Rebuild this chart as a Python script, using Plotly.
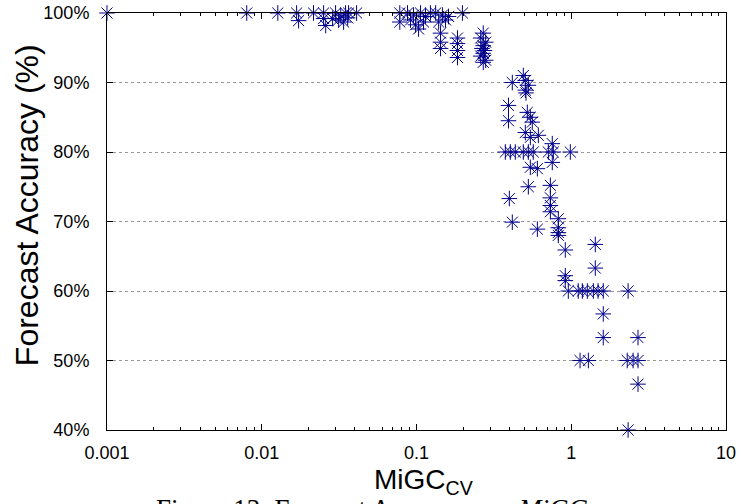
import plotly.graph_objects as go

# MiGC_CV values (log x) and forecast accuracy (%)
mig_cv = [
    0.001, 0.0080, 0.0127, 0.0168, 0.0173, 0.0216, 0.0251, 0.0251, 0.0259,
    0.0287, 0.0300, 0.0314, 0.0324, 0.0338, 0.0348, 0.0359, 0.0364, 0.041,
    0.078, 0.078, 0.0875, 0.0915, 0.0957, 0.0986, 0.1031, 0.1062, 0.1110, 0.1143,
    0.123, 0.133, 0.139, 0.147, 0.154, 0.161,
    0.143, 0.143, 0.143,
    0.184, 0.184, 0.184, 0.184, 0.198,
    0.27, 0.26, 0.28, 0.27, 0.265, 0.275, 0.27, 0.26, 0.28, 0.27,
    0.416, 0.49, 0.505, 0.528, 0.505, 0.51,
    0.393, 0.393, 0.52, 0.544, 0.56, 0.505, 0.544, 0.613,
    0.375, 0.404, 0.435, 0.49, 0.528, 0.568, 0.711, 0.766, 0.986,
    0.754, 0.754, 0.544, 0.604, 0.528, 0.733,
    0.398, 0.733, 0.733, 0.733, 0.416, 0.604,
    0.825, 0.825, 0.825, 0.825,
    0.915, 0.915, 0.915, 1.43, 1.43,
    0.957, 1.11, 1.18, 1.27, 1.39, 1.49, 1.61, 2.33,
    1.61, 1.61, 2.70,
    1.14, 1.29, 2.30, 2.51, 2.70,
    2.70, 2.33,
]
accuracy = [
    100, 100, 100, 100, 98.9, 100, 100, 99.2, 98.2,
    99.2, 100, 99.0, 99.6, 98.7, 100, 99.3, 100, 100,
    100, 98.7, 100, 99.0, 99.7, 98.3, 97.7, 100, 98.7, 99.5,
    100, 100, 98.7, 99.7, 99.0, 99.5,
    97.1, 95.8, 94.9,
    96.4, 95.6, 94.6, 93.6, 100,
    97.1, 96.4, 95.8, 95.3, 94.9, 94.6, 94.2, 93.8, 93.2, 92.9,
    90.0, 91.0, 90.3, 89.6, 88.9, 88.5,
    86.7, 84.5, 85.7, 85.0, 84.3, 82.8, 82.1, 82.4,
    80, 80, 80, 80, 80, 80, 80, 80, 80,
    81.2, 78.5, 77.8, 77.6, 75.0, 75.2,
    73.3, 73.4, 72.3, 71.4, 69.9, 68.9,
    70.4, 69.1, 68.4, 68.0,
    65.9, 62.2, 61.5, 66.7, 63.3,
    60, 60, 60, 60, 60, 60, 60, 60,
    56.7, 53.3, 53.3,
    50, 50, 50, 50, 50,
    46.6, 40,
]

x_tickvals = [0.001, 0.01, 0.1, 1, 10]
x_ticktext = ["0.001", "0.01", "0.1", "1", "10"]
y_tickvals = [40, 50, 60, 70, 80, 90, 100]
y_ticktext = ["40%", "50%", "60%", "70%", "80%", "90%", "100%"]

ARIAL = "Liberation Sans, Arial, Helvetica, sans-serif"
TIMES = "Liberation Serif, Times New Roman, serif"
NAVY = "#00008B"

fig = go.Figure()
fig.add_trace(go.Scatter(
    x=mig_cv, y=accuracy, mode="markers", cliponaxis=False,
    marker=dict(symbol="asterisk-open", size=13, color=NAVY,
                line=dict(width=1, color=NAVY)),
    showlegend=False, hoverinfo="skip",
))

fig.update_layout(
    width=745, height=504, autosize=False,
    margin=dict(l=107, r=19, t=13, b=74, pad=0),
    paper_bgcolor="white", plot_bgcolor="white",
    font=dict(family=ARIAL, size=18, color="black"),
)
fig.update_xaxes(
    type="log", range=[-3, 1], automargin=False,
    tickmode="array", tickvals=x_tickvals, ticktext=x_ticktext,
    ticks="inside", ticklen=6, tickcolor="black",
    showline=True, linecolor="black", linewidth=1, mirror="ticks",
    showgrid=False, zeroline=False, ticklabelstandoff=6,
    ticklabeloverflow="allow",
    minor=dict(ticks="inside", ticklen=3, dtick="D1", tickcolor="black", showgrid=False),
    tickfont=dict(family=ARIAL, size=18, color="black"),
)
fig.update_yaxes(
    range=[40, 100], automargin=False,
    tickmode="array", tickvals=y_tickvals, ticktext=y_ticktext,
    ticks="inside", ticklen=6, tickcolor="black",
    showline=True, linecolor="black", linewidth=1, mirror="ticks",
    showgrid=True, gridcolor="#999999", griddash="dot", gridwidth=1,
    zeroline=False, ticklabelstandoff=13, ticklabeloverflow="allow",
    tickfont=dict(family=ARIAL, size=18, color="black"),
)

fig.add_annotation(
    text="Forecast Accuracy (%)", textangle=-90, showarrow=False,
    xref="paper", yref="paper", x=-0.129, y=0.5396,
    xanchor="center", yanchor="middle",
    font=dict(family=ARIAL, size=32, color="black"),
)
fig.add_annotation(
    text="MiGC<sub>CV</sub>", showarrow=False,
    xref="paper", yref="paper", x=0.512, y=-0.1246,
    xanchor="center", yanchor="middle",
    font=dict(family=ARIAL, size=28, color="black"),
)
fig.add_annotation(
    text="Figure 13: Forecast Accuracy vs. <i>MiGC</i><sub>CV</sub>", showarrow=False,
    xref="paper", yref="paper", x=0.449, y=-0.149,
    xanchor="center", yanchor="top",
    font=dict(family=TIMES, size=27, color="black"),
)

fig.write_html("out.html", config={"displayModeBar": False, "staticPlot": True},
               post_script="document.body.style.margin='0px';")
